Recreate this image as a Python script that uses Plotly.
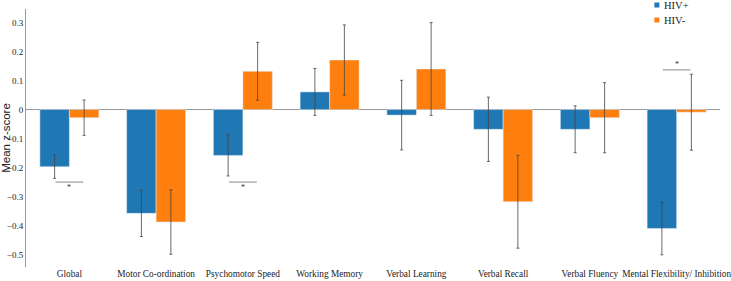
import plotly.graph_objects as go

categories = ["Global", "Motor Co-ordination", "Psychomotor Speed", "Working Memory",
              "Verbal Learning", "Verbal Recall", "Verbal Fluency", "Mental Flexibility/ Inhibition"]
hiv_pos = [-0.197, -0.358, -0.158, 0.061, -0.019, -0.068, -0.068, -0.41]
hiv_pos_err = [0.04, 0.08, 0.071, 0.081, 0.12, 0.111, 0.081, 0.091]
hiv_neg = [-0.028, -0.388, 0.132, 0.171, 0.14, -0.318, -0.028, -0.009]
hiv_neg_err = [0.061, 0.111, 0.1, 0.121, 0.16, 0.16, 0.121, 0.131]
series_names = ["HIV+", "HIV-"]

# significance markers: (category index, line y, star y)
sig_idx = [0, 2, 7]
sig_line_y = [-0.25, -0.25, 0.137]
sig_star_y = [-0.268, -0.268, 0.155]

BLUE = "#1f77b4"
ORANGE = "#ff7f0e"
colors = [BLUE, ORANGE]
ERR = dict(type="data", thickness=0.8, width=1.5, color="#444")

fig = go.Figure()
fig.add_trace(go.Bar(x=categories, y=hiv_pos, name=series_names[0], marker_color=BLUE,
                     error_y=dict(array=hiv_pos_err, **ERR), showlegend=False))
fig.add_trace(go.Bar(x=categories, y=hiv_neg, name=series_names[1], marker_color=ORANGE,
                     error_y=dict(array=hiv_neg_err, **ERR), showlegend=False))

for i, ly, sy in zip(sig_idx, sig_line_y, sig_star_y):
    fig.add_shape(type="line", xref="x", yref="y", x0=i - 0.16, x1=i + 0.16, y0=ly, y1=ly,
                  line=dict(color="#888", width=1))
    fig.add_annotation(x=i, y=sy, xref="x", yref="y", text="*", showarrow=False,
                       font=dict(size=8, color="#333"))

# legend drawn as small squares + text (compact spacing like the reference)
leg_x = 0.909
leg_y = [1.0155, 0.9573]
for nm, col, yy in zip(series_names, colors, leg_y):
    fig.add_shape(type="rect", xref="paper", yref="paper",
                  x0=leg_x - 0.0036, x1=leg_x + 0.0036, y0=yy - 0.0097, y1=yy + 0.0097,
                  fillcolor=col, line=dict(width=0))
    fig.add_annotation(x=leg_x + 0.008, y=yy, xref="paper", yref="paper", text=nm,
                       showarrow=False, xanchor="left", yanchor="middle",
                       font=dict(family="Liberation Serif", size=10.5, color="#222"))

fig.update_layout(
    width=731, height=281,
    margin=dict(l=26, r=11, t=9, b=14, autoexpand=False),
    plot_bgcolor="white", paper_bgcolor="white",
    barmode="group", bargap=0.32, bargroupgap=0,
    font=dict(family="Liberation Serif", size=10, color="#222"),
    showlegend=False,
    xaxis=dict(showline=False, ticks="", showgrid=False, tickfont=dict(size=9.3),
               tickangle=0, automargin=False),
    yaxis=dict(range=[-0.543, 0.347], tickvals=[-0.5, -0.4, -0.3, -0.2, -0.1, 0, 0.1, 0.2, 0.3],
               showgrid=False, showline=True, linecolor="#999", linewidth=1,
               zeroline=True, zerolinecolor="#999", zerolinewidth=1,
               ticks="", tickfont=dict(size=9), automargin=False,
               title=dict(text="Mean z-score", standoff=0,
                          font=dict(family="Liberation Sans", size=11.5, color="#222"))),
)
fig.write_html("out.html", config={"displayModeBar": False},
               post_script="document.body.style.margin='0';")
